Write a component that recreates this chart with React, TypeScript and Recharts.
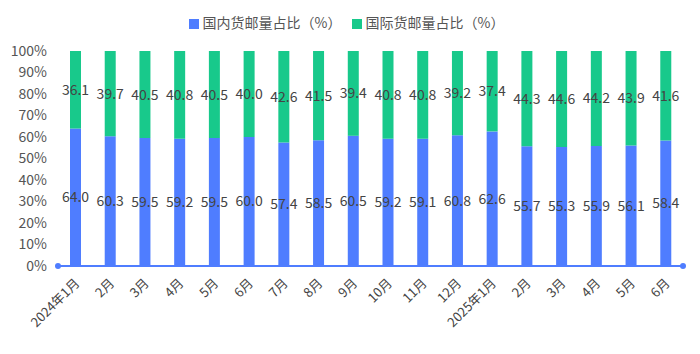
import React from 'react';
import { BarChart, Bar, XAxis, YAxis, Legend, LabelList, usePlotArea } from 'recharts';

const months = [
  '2024年1月', '2月', '3月', '4月', '5月', '6月', '7月', '8月', '9月', '10月', '11月', '12月',
  '2025年1月', '2月', '3月', '4月', '5月', '6月',
];
const domestic = [64.0, 60.3, 59.5, 59.2, 59.5, 60.0, 57.4, 58.5, 60.5, 59.2, 59.1, 60.8, 62.6, 55.7, 55.3, 55.9, 56.1, 58.4];
const international = [36.1, 39.7, 40.5, 40.8, 40.5, 40.0, 42.6, 41.5, 39.4, 40.8, 40.8, 39.2, 37.4, 44.3, 44.6, 44.2, 43.9, 41.6];
const yTicks = [0, 0.1, 0.2, 0.3, 0.4, 0.5, 0.6, 0.7, 0.8, 0.9, 1];

const data = months.map((m, i) => ({ month: m, domestic: domestic[i], international: international[i] }));

const FONT = '"Microsoft YaHei", "Noto Sans CJK SC", sans-serif';
const BLUE = '#4f7dff';
const GREEN = '#18c98b';

const XTick = (props: any) => {
  const { x, y, payload } = props;
  return (
    <text
      x={x + 5}
      y={y + 10}
      transform={`rotate(-45, ${x + 5}, ${y + 10})`}
      textAnchor="end"
      fontSize={13}
      fill="#444"
      fontFamily={FONT}
    >
      {payload.value}
    </text>
  );
};

// axis end dots
const AxisDots = () => {
  const area = usePlotArea();
  if (!area) return null;
  const y = area.y + area.height;
  return (
    <g>
      <circle cx={area.x} cy={y} r={3} fill={BLUE} />
      <circle cx={area.x + area.width} cy={y} r={3} fill={BLUE} />
    </g>
  );
};

export default function App() {
  return (
    <div style={{ position: 'absolute', left: 0, top: 0, width: 700, height: 354, background: '#fff', fontFamily: FONT }}>
      <BarChart
        width={700}
        height={354}
        data={data}
        stackOffset="expand"
        margin={{ top: 31, right: 17, bottom: 0, left: 0 }}
      >
        <Legend
          verticalAlign="top"
          align="center"
          iconType="square"
          iconSize={10}
          wrapperStyle={{ fontSize: 14, color: '#555', top: 12, left: 10 }}
          formatter={(v: string) => <span style={{ color: '#555' }}>{v}</span>}
        />
        <XAxis
          dataKey="month"
          interval={0}
          tickLine={false}
          axisLine={{ stroke: BLUE, strokeWidth: 2 }}
          tick={<XTick />}
          height={88}
        />
        <YAxis
          width={58}
          ticks={yTicks}
          domain={[0, 1]}
          tickLine={false}
          axisLine={false}
          interval={0}
          tickMargin={5}
          tickFormatter={(v: number) => `${Math.round(v * 100)}%`}
          tick={{ fontSize: 14, fill: '#555', fontFamily: FONT }}
        />
        <Bar dataKey="domestic" name="国内货邮量占比（%）" stackId="a" fill={BLUE} barSize={11} isAnimationActive={false}>
          <LabelList dataKey="domestic" position="center" fill="#444" fontSize={14} formatter={(v: number) => v.toFixed(1)} />
        </Bar>
        <Bar dataKey="international" name="国际货邮量占比（%）" stackId="a" fill={GREEN} barSize={11} isAnimationActive={false}>
          <LabelList dataKey="international" position="center" fill="#444" fontSize={14} formatter={(v: number) => v.toFixed(1)} />
        </Bar>
        <AxisDots />
      </BarChart>
    </div>
  );
}
